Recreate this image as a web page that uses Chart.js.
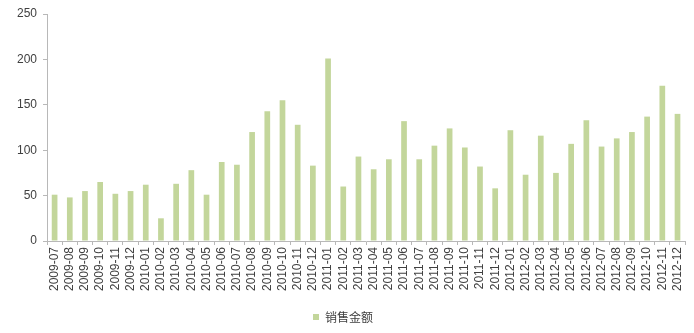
<!DOCTYPE html>
<html>
<head>
<meta charset="utf-8">
<script src="https://cdn.jsdelivr.net/npm/chart.js@4/dist/chart.umd.min.js"></script>
<style>
  html, body { margin: 0; padding: 0; background: #fff; }
  #wrap { width: 694px; height: 333px; }
</style>
</head>
<body>
<div id="wrap"><canvas id="salesChart" width="694" height="333"></canvas></div>
<script>
const months = [
  '2009-07','2009-08','2009-09','2009-10','2009-11','2009-12',
  '2010-01','2010-02','2010-03','2010-04','2010-05','2010-06',
  '2010-07','2010-08','2010-09','2010-10','2010-11','2010-12',
  '2011-01','2011-02','2011-03','2011-04','2011-05','2011-06',
  '2011-07','2011-08','2011-09','2011-10','2011-11','2011-12',
  '2012-01','2012-02','2012-03','2012-04','2012-05','2012-06',
  '2012-07','2012-08','2012-09','2012-10','2012-11','2012-12'
];
const salesAmount = [
  51, 48, 55, 65, 52, 55,
  62, 25, 63, 78, 51, 87,
  84, 120, 143, 155, 128, 83,
  201, 60, 93, 79, 90, 132,
  90, 105, 124, 103, 82, 58,
  122, 73, 116, 75, 107, 133,
  104, 113, 120, 137, 171, 140
];
const yTicks = [0, 50, 100, 150, 200, 250];
const seriesName = '销售金额';

const axisColor = '#b8b8b8';
const textColor = '#404040';
const fontFamily = '"Liberation Sans", Arial, sans-serif';

const ctx = document.getElementById('salesChart').getContext('2d');
const salesChart = new Chart(ctx, {
  type: 'bar',
  data: {
    labels: months,
    datasets: [{
      label: seriesName,
      data: salesAmount,
      backgroundColor: '#c3d69b',
      borderWidth: 0,
      barPercentage: 0.75,
      categoryPercentage: 0.5
    }]
  },
  options: {
    responsive: false,
    animation: false,
    layout: { padding: { top: 14, right: 8, left: 0, bottom: 0 } },
    plugins: {
      tooltip: { enabled: false },
      legend: {
        position: 'bottom',
        labels: {
          boxWidth: 6,
          boxHeight: 6,
          padding: 5,
          color: textColor,
          font: { family: '"Noto Sans CJK SC", sans-serif', size: 12 }
        }
      }
    },
    scales: {
      x: {
        grid: {
          display: true,
          drawOnChartArea: false,
          offset: true,
          color: axisColor,
          tickLength: 4
        },
        border: { color: axisColor },
        ticks: {
          minRotation: 90,
          maxRotation: 90,
          autoSkip: false,
          padding: 2,
          color: textColor,
          font: { family: fontFamily, size: 12 }
        },
        afterFit: scale => { scale.height = 65; }
      },
      y: {
        min: 0,
        max: 250,
        afterBuildTicks: scale => { scale.ticks = yTicks.map(v => ({ value: v })); },
        grid: {
          display: true,
          drawOnChartArea: false,
          color: axisColor,
          tickLength: 4
        },
        border: { color: axisColor },
        ticks: {
          padding: 6,
          color: textColor,
          font: { family: fontFamily, size: 12 }
        },
        afterFit: scale => { scale.width = 47; }
      }
    }
  }
});
</script>
</body>
</html>
